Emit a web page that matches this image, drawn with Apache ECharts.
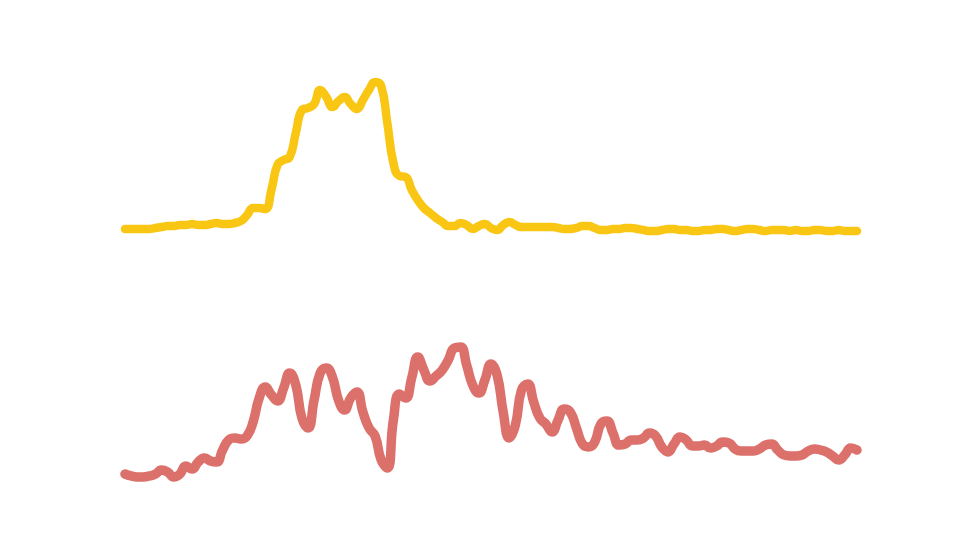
<!DOCTYPE html>
<html>
<head>
<meta charset="utf-8">
<title>Two lines</title>
<script src="https://cdn.jsdelivr.net/npm/echarts@6/dist/echarts.min.js"></script>
<style>
  html, body { margin: 0; padding: 0; background: #fff; }
  #chart { width: 956px; height: 560px; }
</style>
</head>
<body>
<div id="chart"></div>
<script>
// ---- data (0..100 scale per panel) ----
const topValues = [
  2, 2, 2, 2, 2, 2.7, 3.3, 4, 4, 4.7,
  4.7, 5.3, 4.7, 4.7, 5.3, 6, 5.3, 5.3, 6, 7.3,
  11.3, 16, 16, 15.3, 28, 44.7, 48, 50, 66, 81.3,
  82.7, 85.3, 94.7, 90, 83.3, 87.3, 90, 85.3, 82, 88,
  94.7, 100, 97.3, 72.7, 46, 37.3, 36.7, 28, 21.3, 16,
  12.7, 9.3, 6.7, 4, 4, 6, 4.7, 2, 4, 5.3,
  2.7, 1.3, 4.7, 6.7, 4.7, 3.3, 3.3, 3.3, 3.3, 3.3,
  3.3, 2.7, 2, 2, 2.7, 4, 4, 2.7, 1.3, 1.3,
  2, 2, 2.7, 2.7, 2, 1.3, 0.7, 0.7, 1.3, 2,
  2, 1.3, 1.3, 0.7, 0.7, 1.3, 1.3, 2, 2, 1.3,
  0.7, 1.3, 2, 2, 1.3, 0.7, 1.3, 1.3, 1.3, 0.7,
  1.3, 0.7, 0.7, 1.3, 1.3, 0.7, 0.7, 1.3, 0.7, 0.7,
  0.7
];

const bottomValues = [
  4, 2.7, 2, 2, 2.7, 4, 6.7, 5.3, 2, 4,
  9.3, 7.3, 12, 14.7, 12.7, 12, 20, 26.7, 28, 27.3,
  29.3, 38.7, 54.7, 62, 56.7, 52.7, 61.3, 71.3, 63.3, 41.3,
  34.7, 53.3, 71.3, 74.7, 68.7, 53.3, 46.7, 54.7, 58.7, 45.3,
  34.7, 29.3, 13.3, 8, 40, 57.3, 54.7, 68, 82, 73.3,
  66, 69.3, 73.3, 80, 88, 88.7, 76.7, 63.3, 58, 66.7,
  77.3, 70, 45.3, 28, 36.7, 60, 64, 52, 41.3, 37.3,
  32, 40, 47.3, 45.3, 34.7, 24, 22, 25.3, 37.3, 39.3,
  31.3, 23.3, 24, 26.7, 26.7, 28, 31.3, 29.3, 22, 18.7,
  24, 28.7, 26.7, 22.7, 22.7, 23.3, 21.3, 22.7, 25.3, 24.7,
  20.7, 19.3, 19.3, 19.3, 20.7, 23.3, 24, 20, 16.7, 16,
  16, 16.7, 19.3, 20.7, 20, 18.7, 16, 13.3, 16.7, 21.3,
  20
];

const categories = topValues.map((_, i) => String(i));

const topColor = "#f9c614";
const bottomColor = "#dc716c";

document.addEventListener("DOMContentLoaded", () => {
  const chart = echarts.init(document.getElementById("chart"));

  const hiddenX = idx => ({
    type: "category",
    gridIndex: idx,
    data: categories,
    boundaryGap: false,
    show: false
  });
  const hiddenY = idx => ({
    type: "value",
    gridIndex: idx,
    min: 0,
    max: 100,
    show: false
  });
  const lineSeries = (name, idx, data, color, width) => ({
    name: name,
    type: "line",
    xAxisIndex: idx,
    yAxisIndex: idx,
    data: data,
    smooth: 0.5,
    symbol: "none",
    lineStyle: { color: color, width: width, cap: "round", join: "round" },
    itemStyle: { color: color },
    animation: false
  });

  chart.setOption({
    backgroundColor: "#fff",
    grid: [
      { left: 125, right: 99, top: 82, height: 150 },
      { left: 125, right: 99, top: 330, height: 150 }
    ],
    xAxis: [hiddenX(0), hiddenX(1)],
    yAxis: [hiddenY(0), hiddenY(1)],
    series: [
      lineSeries("top", 0, topValues, topColor, 8.5),
      lineSeries("bottom", 1, bottomValues, bottomColor, 9.5)
    ]
  });

  window.addEventListener("resize", chart.resize);
});
</script>
</body>
</html>
